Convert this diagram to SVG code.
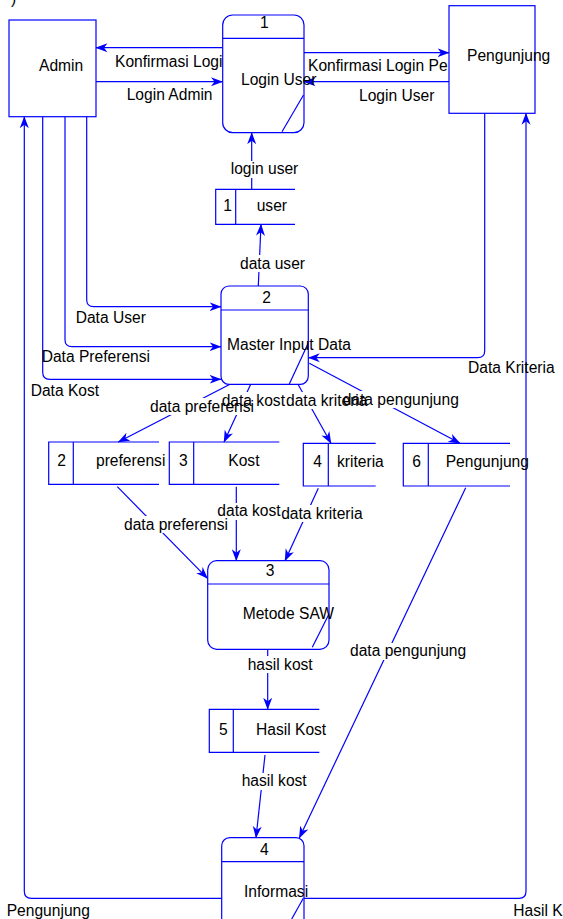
<svg xmlns="http://www.w3.org/2000/svg" width="563" height="919" viewBox="0 0 563 919">
<style>
text{font-family:"Liberation Sans",Arial,sans-serif;font-size:15.6px;fill:#000}
.c{text-anchor:middle}
.ln{fill:none;stroke:#0000ff;stroke-width:1.2}
.ar{marker-end:url(#arr)}
.nd{fill:#fff;stroke:#0000ff;stroke-width:1.2}
.ds{fill:none;stroke:#0000ff;stroke-width:1.2}
.bg{fill:#fff}
</style>
<defs>
<marker id="arr" viewBox="0 0 12 10" refX="11.5" refY="5" markerWidth="12" markerHeight="10" markerUnits="userSpaceOnUse" orient="auto">
<path d="M0,0.5 L12,5 L0,9.5 L3.5,5 z" fill="#0000ff"/>
</marker>
</defs>
<rect width="563" height="919" fill="#fff"/>
<text x="11" y="4">)</text>
<g id="connectors">
<path class="ln ar" d="M96,81.7 H222.5"/>
<path class="ln ar" d="M222.5,47.7 H96"/>
<path class="ln ar" d="M304,52.7 H449"/>
<path class="ln ar" d="M449,81.7 H304"/>
<path class="ln ar" d="M251.7,189.3 V132.7"/>
<path class="ln ar" d="M258.3,286 L261,224.3"/>
<path class="ln ar" d="M86.7,116.7 V299.7 Q86.7,306.7 93.7,306.7 H221"/>
<path class="ln ar" d="M65,116.7 V339.7 Q65,346.7 72,346.7 H221"/>
<path class="ln ar" d="M42.7,116.7 V372.3 Q42.7,379.3 49.7,379.3 H221"/>
<path class="ln ar" d="M221.7,898.3 H31.3 Q24.3,898.3 24.3,891.3 V116.7"/>
<path class="ln ar" d="M484.7,113.3 V350.7 Q484.7,357.7 477.7,357.7 H308.3"/>
<path class="ln ar" d="M304,898.3 H519 Q526,898.3 526,891.3 V113.3"/>
<path class="ln ar" d="M230,384.3 L118.3,442"/>
<path class="ln ar" d="M250.7,384.3 L224,442"/>
<path class="ln ar" d="M298,384.3 L331,443.3"/>
<path class="ln ar" d="M309.3,363.3 L460,443.3"/>
<path class="ln ar" d="M117.3,486.7 L207.5,578.3"/>
<path class="ln ar" d="M236.3,486.7 V560.7"/>
<path class="ln ar" d="M318.3,488.3 L285,560.7"/>
<path class="ln ar" d="M465.7,487.7 L299.3,838"/>
<path class="ln ar" d="M267.7,649.3 V709.3"/>
<path class="ln ar" d="M265,755 L256,837.7"/>
</g>
<g id="edge-labels">
<rect class="bg" x="230" y="161" width="70" height="17"/>
<rect class="bg" x="239" y="255" width="67" height="17"/>
<rect class="bg" x="149" y="398" width="107" height="17"/>
<rect class="bg" x="221" y="392" width="64" height="17"/>
<rect class="bg" x="286" y="392" width="82" height="17"/>
<rect class="bg" x="342" y="391" width="118" height="17"/>
<rect class="bg" x="123" y="516" width="106" height="17"/>
<rect class="bg" x="217" y="503" width="63" height="17"/>
<rect class="bg" x="281" y="505" width="82" height="17"/>
<rect class="bg" x="349" y="643" width="119" height="17"/>
<rect class="bg" x="247" y="656" width="67" height="17"/>
<rect class="bg" x="241" y="773" width="67" height="17"/>
<text x="115" y="67.2">Konfirmasi Logi</text>
<text x="126.7" y="99.8">Login Admin</text>
<text x="308" y="71.2">Konfirmasi Login Pe</text>
<text x="359" y="100.5">Login User</text>
<text x="230.7" y="173.9">login user</text>
<text x="240" y="268.5">data user</text>
<text x="75.7" y="322.9">Data User</text>
<text x="41.7" y="361.9">Data Preferensi</text>
<text x="30.7" y="395.5">Data Kost</text>
<text x="468" y="372.9">Data Kriteria</text>
<text x="150" y="411.9">data preferensi</text>
<text x="221.7" y="406.2">data kost</text>
<text x="286" y="406.2">data kriteria</text>
<text x="342.7" y="404.5">data pengunjung</text>
<text x="124" y="529.5">data preferensi</text>
<text x="217.3" y="516.2">data kost</text>
<text x="281.2" y="518.5">data kriteria</text>
<text x="350" y="656.2">data pengunjung</text>
<text x="247.7" y="669.5">hasil kost</text>
<text x="241.7" y="786.3">hasil kost</text>
<text x="6.7" y="916.2">Pengunjung</text>
<text x="513.3" y="915.5">Hasil Kost</text>
</g>
<g id="admin">
<rect class="nd" x="9" y="20" width="87" height="96.7"/>
<text x="39" y="70.5">Admin</text>
</g>
<g id="pengunjung">
<rect class="nd" x="449" y="5.7" width="86" height="107.6"/>
<text x="467" y="60.5">Pengunjung</text>
</g>
<g id="p1">
<rect class="nd" x="222.7" y="15" width="81.3" height="117.7" rx="10"/>
<line class="ds" x1="222.7" y1="38.3" x2="304" y2="38.3"/>
<line class="ds" x1="282" y1="131.7" x2="303.5" y2="95"/>
<text class="c" x="264.3" y="28.3">1</text>
<text x="241" y="85.2">Login User</text>
</g>
<g id="p2">
<rect class="nd" x="221" y="286" width="87.3" height="98.3" rx="8"/>
<line class="ds" x1="221" y1="310" x2="308.3" y2="310"/>
<line class="ds" x1="289.3" y1="384" x2="308.3" y2="343"/>
<text class="c" x="266.7" y="302.9">2</text>
<text x="227" y="349.5">Master Input Data</text>
</g>
<g id="p3">
<rect class="nd" x="207.7" y="560.7" width="121.3" height="88.6" rx="9"/>
<line class="ds" x1="207.7" y1="584" x2="329" y2="584"/>
<line class="ds" x1="312.3" y1="647.3" x2="329" y2="614"/>
<text class="c" x="270" y="576.2">3</text>
<text x="242.7" y="618.5">Metode SAW</text>
</g>
<g id="p4">
<rect class="nd" x="221.7" y="837.7" width="82.3" height="110" rx="8"/>
<line class="ds" x1="221.7" y1="861.7" x2="304" y2="861.7"/>
<line class="ds" x1="303.3" y1="898.3" x2="291.7" y2="919"/>
<text class="c" x="264.3" y="854.5">4</text>
<text x="244" y="897.2">Informasi</text>
</g>
<g id="ds1">
<path class="ds" d="M295,189.3 H215.7 V224.3 H295 M235.7,189.3 V224.3"/>
<text class="c" x="227.5" y="210.5">1</text>
<text x="256.7" y="210.5">user</text>
</g>
<g id="ds2">
<path class="ds" d="M159,442 H48.7 V484.3 H159 M73.3,442 V484.3"/>
<text class="c" x="61.7" y="465.5">2</text>
<text x="96" y="465.5">preferensi</text>
</g>
<g id="ds3">
<path class="ds" d="M279.3,442 H169.3 V484.3 H279.3 M193.7,442 V484.3"/>
<text class="c" x="183.3" y="465.5">3</text>
<text x="228.3" y="465.5">Kost</text>
</g>
<g id="ds4">
<path class="ds" d="M375.7,443.3 H303.3 V486 H375.7 M328.3,443.3 V486"/>
<text class="c" x="317.7" y="466.9">4</text>
<text x="337" y="466.9">kriteria</text>
</g>
<g id="ds6">
<path class="ds" d="M510,443.3 H403.3 V486 H510 M428.3,443.3 V486"/>
<text class="c" x="416.7" y="466.9">6</text>
<text x="445.7" y="466.9">Pengunjung</text>
</g>
<g id="ds5">
<path class="ds" d="M319.3,709.3 H209.3 V752.3 H319.3 M233.3,709.3 V752.3"/>
<text class="c" x="223.3" y="734.5">5</text>
<text x="256" y="734.5">Hasil Kost</text>
</g>
</svg>
